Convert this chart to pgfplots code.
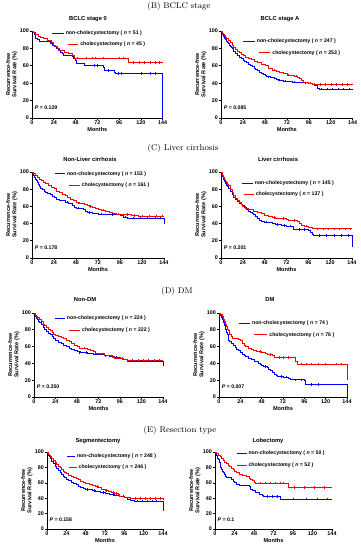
\documentclass[border=0pt]{standalone}
\usepackage{fontspec}
\usepackage{pgfplots}
\pgfplotsset{compat=1.18}
\newfontfamily\af{Liberation Sans}
\definecolor{kmblue}{RGB}{0,0,255}
\definecolor{kmred}{RGB}{255,0,0}
\newcommand\tickf{\af\bfseries\fontsize{5.4}{6}\selectfont}
\newcommand\legf{\af\bfseries\fontsize{5.2}{6}\selectfont}
\newcommand\titf{\af\bfseries\fontsize{5.8}{7}\selectfont}
\newcommand\labf{\af\bfseries\fontsize{5.6}{6.4}\selectfont}
\newcommand\headf{\fontsize{8.3}{10}\selectfont}
\pgfplotsset{
  km/.style={
    scale only axis, anchor=south west,
    xmin=0, xmax=144, ymin=0, ymax=100,
    axis lines=left, axis line style={-, line width=0.6pt},
    xtick={0,24,...,144}, ytick={0,20,...,100},
    tick align=outside, major tick length=2pt,
    tick style={line width=0.6pt, black},
    /pgf/number format/assume math mode=true,
    ticklabel style={font=\tickf},
    xticklabel style={inner sep=1pt},
    yticklabel style={inner sep=1pt},
    xlabel={Months}, xlabel style={font=\labf, inner sep=1pt},
    ylabel={Recurrence-free\\Survival Rate (\%)},
    ylabel style={align=center, font=\labf, inner sep=1pt},
    clip=false,
  },
  bl/.style={kmblue, line width=0.7pt, const plot, mark=none},
  rd/.style={kmred, line width=0.7pt, const plot, mark=none},
  bc/.style={kmblue, only marks, mark=|, mark size=1.2pt, mark options={line width=0.4pt}},
  rc/.style={kmred, only marks, mark=|, mark size=1.2pt, mark options={line width=0.4pt}},
}
% legend helper: #1 colour, #2 x1, #3 x2, #4 y, #5 text
\newcommand\legline[5]{%
  \draw[#1, line width=0.7pt] (axis cs:#2,#4) -- (axis cs:#3,#4);
  \node[anchor=west, font=\legf, inner sep=0pt] at (axis cs:#3+2,#4) {#5};}
\newcommand\pval[1]{\node[anchor=west, font=\legf, inner sep=0pt] at (axis cs:3,12) {\textit{P} = #1};}
\begin{document}
\begin{tikzpicture}[x=1pt,y=1pt]
\useasboundingbox (0,0) rectangle (361,550);
% headings
\node[font=\headf] at (179,544) {(B) BCLC stage};
\node[font=\headf] at (183,402) {(C) Liver cirrhosis};
\node[font=\headf] at (177,259) {(D) DM};
\node[font=\headf] at (180,120) {(E) Resection type};
% titles
\node[font=\titf] at (88,531) {BCLC stage 0};
\node[font=\titf] at (280,531) {BCLC stage A};
\node[font=\titf] at (90,391) {Non-Liver cirrhosis};
\node[font=\titf] at (278,391) {Liver cirrhosis};
\node[font=\titf] at (85,250) {Non-DM};
\node[font=\titf] at (270,250) {DM};
\node[font=\titf] at (98,109) {Segmentectomy};
\node[font=\titf] at (268,109) {Lobectomy};

% ---------- Plot 1: BCLC stage 0
\begin{axis}[km, at={(32pt,432pt)}, width=130.7pt, height=87pt]
\addplot[bl] coordinates {(0,100)(1.5,98)(2.5,96)(4,92)(5.5,90)(8,88)(20,86)(22,84)(25,82)(27,80)(29,78)(31,76)(33,74)(35,72.5)(44,70.5)(46,68.5)(48,66)(49,62.5)(58,60.5)(79,58)(80,55)(83,54.5)(91,52.5)(92,51)(144,51)(144,0)};
\addplot[rd] coordinates {(0,100)(2,98)(4,96)(7,94)(9,93)(12,91)(17,89)(21,87)(24,84)(26,82)(28,80)(30,77.5)(36,76)(40,74)(44,72)(47,69)(105,69)(106,64)(144,64)};
\addplot[bc] coordinates {(68,60.5)(72,60.5)(84,54.5)(95,51)(98,51)(120,51)(130,51)(136,51)};
\addplot[rc] coordinates {(50,69)(60,69)(66,69)(70,69)(78,69)(96,69)(100,69)(112,64)(118,64)(124,64)(130,64)(136,64)(140,64)};
\legline{kmblue}{22}{35}{97}{non-cholecystectomy ( \textit{n} = 51 )}
\legline{kmred}{40}{51}{85}{cholecystectomy ( \textit{n} = 45 )}
\pval{0.129}
\end{axis}

% ---------- Plot 2: BCLC stage A
\begin{axis}[km, at={(221pt,432pt)}, width=131.7pt, height=87pt]
\addplot[bl] coordinates {(0,100)(1,98)(2,96)(3,94)(4,92)(5,90)(6,88.5)(7,87)(8,85.5)(9,84)(10,82.5)(11,81)(12,79.5)(14,77)(16,74)(18,72)(20,70)(22,68)(24,66.5)(26,65)(28,63.5)(30,62)(32,60.5)(34,59)(36,57.5)(38,56)(40,54.5)(42,53)(44,51.5)(46,50)(48,48.5)(50,47.5)(54,47)(58,46)(60,44)(64,43)(68,42.5)(72,42)(78,41.5)(84,41)(90,40.5)(96,40)(100,39)(103,37)(105,34.5)(107,33)(144,33)};
\addplot[rd] coordinates {(0,100)(1,99)(2,97.5)(3,96)(4,94.5)(5,93)(6,91.5)(8,89)(10,86.5)(12,84)(14,81.5)(16,79)(18,77)(20,75)(22,73.5)(24,72)(27,70)(30,68.5)(33,67)(36,65.5)(40,63.5)(44,61.5)(48,60)(52,57.5)(56,55)(60,53.5)(64,52.5)(68,51)(72,49.5)(76,48.5)(80,48)(84,47)(86,45)(88,43)(90,41)(96,40)(100,38.5)(144,38.5)};
\addplot[bc] coordinates {(52,47)(62,44)(70,42.5)(80,41.5)(92,40.5)(110,33)(116,33)(122,33)(128,33)(134,33)(140,33)};
\addplot[rc] coordinates {(58,55)(74,49.5)(82,48)(98,40)(102,38.5)(108,38.5)(114,38.5)(120,38.5)(126,38.5)(132,38.5)(138,38.5)};
\legline{kmblue}{24}{37}{88}{non-cholecystectomy ( \textit{n} = 247 )}
\legline{kmred}{42}{54}{75}{cholecystectomy ( \textit{n} = 253 )}
\pval{0.085}
\end{axis}

% ---------- Plot 3: Non-Liver cirrhosis
\begin{axis}[km, at={(32pt,292pt)}, width=132pt, height=86pt]
\addplot[bl] coordinates {(0,100)(1,98)(2,96)(3,94)(4,92)(5,90)(6,88)(7,86)(8,83.5)(9,81)(11,79.5)(13,78)(15,76.5)(17,75)(20,73.5)(22,71.5)(24,70)(27,68)(30,66.5)(36,65)(40,64)(42,63)(44,61)(46,59)(48,58)(54,58)(56,56)(58,54)(60,53)(66,52)(72,51)(84,50.5)(96,49.5)(100,47.5)(104,46.5)(144,46.5)(144,40)};
\addplot[rd] coordinates {(0,100)(2,98.5)(4,96.5)(6,94)(8,92)(10,90)(12,88.5)(15,86.5)(18,84.5)(21,82.5)(24,80.5)(27,78)(30,76)(33,74)(36,72.5)(39,70)(42,68)(45,66.5)(48,65)(51,64)(54,63)(57,62)(60,61)(63,60)(66,59)(69,58)(72,57)(76,55.5)(80,54)(84,53)(88,52)(92,51)(100,50.5)(108,49.5)(116,49)(144,49)};
\addplot[bc] coordinates {(38,65)(50,58)(62,53)(76,51)(88,50.5)(102,47.5)(110,46.5)(118,46.5)(126,46.5)(134,46.5)(140,46.5)};
\addplot[rc] coordinates {(52,64)(64,60)(78,55.5)(94,51)(104,50.5)(112,49.5)(120,49)(128,49)(136,49)(142,49)};
\legline{kmblue}{25}{36}{98}{non-cholecystectomy ( \textit{n} = 153 )}
\legline{kmred}{40}{52}{85}{cholecystectomy ( \textit{n} = 161 )}
\pval{0.178}
\end{axis}

% ---------- Plot 4: Liver cirrhosis
\begin{axis}[km, at={(221pt,292pt)}, width=131pt, height=86pt]
\addplot[bl] coordinates {(0,100)(1,98)(2,95)(3,92)(4,89)(5,87)(6,85)(7,83)(8,81)(10,78)(12,74.5)(14,71)(16,68)(18,66)(20,64)(22,62.5)(24,61)(26,58.5)(28,56)(30,54)(32,53)(34,52)(36,51)(38,48.5)(40,46)(42,44)(44,43)(48,42)(52,41)(56,40)(60,39)(66,38)(72,37)(78,36.5)(80,33)(96,32)(98,30)(100,27.5)(102,26)(144,26)(144,12.5)};
\addplot[rd] coordinates {(0,100)(1,98)(2,96)(3,94)(4,91.5)(5,89)(6,87.5)(7,86)(8,84)(10,80)(12,76)(14,72.5)(16,69)(18,67)(20,65)(22,62.5)(24,60.5)(27,58)(30,57)(33,56)(36,54)(40,53)(44,51.5)(48,49.5)(52,48)(56,47)(60,46.5)(66,46)(72,45)(74,44)(78,43.5)(84,43)(86,40)(88,38)(92,37)(96,36)(100,35)(104,34)(144,34)};
\addplot[bc] coordinates {(50,42)(62,39)(70,38)(76,37)(86,33)(92,33)(108,26)(116,26)(124,26)(132,26)(140,26)};
\addplot[rc] coordinates {(58,47)(68,46)(80,43.5)(94,37)(106,34)(112,34)(118,34)(124,34)(130,34)(136,34)(142,34)};
\legline{kmblue}{23}{35}{87}{non-cholecystectomy ( \textit{n} = 145 )}
\legline{kmred}{25}{36}{74}{cholecystectomy ( \textit{n} = 137 )}
\pval{0.201}
\end{axis}

% ---------- Plot 5: Non-DM
\begin{axis}[km, at={(34pt,153pt)}, width=129pt, height=84pt]
\addplot[bl] coordinates {(0,100)(1,98)(2,96)(3,94)(4,92)(5,90)(6,88.5)(8,86)(10,83)(12,80.5)(14,78)(16,76)(18,74)(20,72)(22,69.5)(24,67.5)(27,65.5)(30,63.5)(33,62)(36,60)(39,58.5)(42,57)(45,55.5)(48,54)(52,53)(56,53)(60,52)(66,51)(72,50.5)(78,49)(84,48)(90,47.5)(96,46.5)(100,45)(104,43)(144,43)(144,37)};
\addplot[rd] coordinates {(0,100)(1,99)(2,97.5)(3,96)(4,94.5)(6,92)(8,89.5)(10,87)(12,85)(14,83)(16,81)(18,79)(20,77)(22,75)(24,73)(27,72)(30,71)(33,69.5)(36,68)(39,66)(42,64)(45,62)(48,60)(51,58.5)(54,58)(60,57)(63,55.5)(66,54)(69,52.5)(72,51.5)(78,50)(84,49)(88,47)(90,46)(96,46)(100,45)(104,44)(144,44)};
\addplot[bc] coordinates {(50,53)(58,53)(68,51)(80,49)(92,47.5)(108,43)(114,43)(120,43)(126,43)(132,43)(138,43)};
\addplot[rc] coordinates {(56,58)(74,51.5)(86,49)(98,46)(110,44)(116,44)(122,44)(128,44)(134,44)(140,44)};
\legline{kmblue}{23.5}{34.5}{94}{non-cholecystectomy ( \textit{n} = 224 )}
\legline{kmred}{39.5}{51.5}{79}{cholecystectomy ( \textit{n} = 222 )}
\pval{0.350}
\end{axis}

% ---------- Plot 6: DM
\begin{axis}[km, at={(219pt,153pt)}, width=128pt, height=84pt]
\addplot[bl] coordinates {(0,100)(2,97)(3,95)(4,92)(5,89)(6,85)(7,81)(8,77)(9,74)(10,71)(11,68)(12,66)(14,64)(16,62)(18,59.5)(20,57)(22,55)(24,53)(26,51)(28,49.5)(30,48)(33,46)(36,44.5)(40,43)(42,42)(44,40)(46,39)(48,38)(50,36.5)(54,35)(56,33.5)(58,32)(60,29)(62,27.5)(64,25.5)(66,24.5)(72,23.5)(78,22)(80,20.5)(96,20)(97,15)(144,15)(144,0)};
\addplot[rd] coordinates {(0,100)(2,98)(4,96)(5,93)(6,90)(7,87)(8,84)(9,81)(10,79)(12,75)(14,72)(15,70)(22,68.5)(24,68)(26,64)(28,61)(30,60)(33,58)(36,57)(39,55)(42,54)(48,53)(52,51.5)(54,50.5)(60,50)(62,47)(84,47)(86,43)(88,39)(144,39)(144,20)};
\addplot[bc] coordinates {(52,36.5)(70,24.5)(76,23.5)(86,20.5)(92,20.5)(104,15)(112,15)};
\addplot[rc] coordinates {(46,54)(58,50.5)(68,47)(72,47)(78,47)(92,39)(98,39)(104,39)(112,39)(120,39)(132,39)(138,39)};
\legline{kmblue}{22}{35}{88}{non-cholecystectomy ( \textit{n} = 74 )}
\legline{kmred}{39.5}{54.5}{74}{cholecystectomy ( \textit{n} = 76 )}
\pval{0.007}
\end{axis}

% ---------- Plot 7: Segmentectomy
\begin{axis}[km, at={(47pt,21pt)}, width=116pt, height=77pt]
\addplot[bl] coordinates {(0,100)(1,98)(2,96)(3,94)(4,91.5)(5,89.5)(6,88)(8,85)(10,82)(12,79)(14,76.5)(16,74)(18,71.5)(20,69)(22,67)(24,65)(27,63)(30,61)(33,59.5)(36,58)(39,56)(42,54)(45,52.5)(48,51.5)(52,51)(56,50)(60,49)(66,47.5)(72,46)(78,45)(84,43.5)(90,42.5)(96,41.5)(100,39)(104,37)(108,36)(144,36)(144,23)};
\addplot[rd] coordinates {(0,100)(1,99)(2,97.5)(3,96)(4,94.5)(6,92)(8,89.5)(10,87)(12,84.5)(14,82)(16,79.5)(18,77.5)(20,75.5)(22,74)(24,72)(27,70)(30,68.5)(33,67)(36,65.5)(39,64)(42,62.5)(45,61)(48,59.5)(52,58)(56,56.5)(60,55)(64,53.5)(68,52)(72,50)(76,49)(80,48)(84,46)(88,44.5)(90,43)(96,41.5)(100,40.5)(104,39.5)(144,39)};
\addplot[bc] coordinates {(50,51.5)(58,50)(70,47.5)(82,45)(94,42.5)(112,36)(118,36)(124,36)(130,36)(136,36)};
\addplot[rc] coordinates {(62,55)(74,50)(82,48)(86,46)(110,39.5)(116,39.5)(122,39.5)(128,39.5)(134,39.5)(140,39.5)};
\legline{kmblue}{25}{35}{94}{non-cholecystectomy ( \textit{n} = 248 )}
\legline{kmred}{27}{37}{80}{cholecystectomy ( \textit{n} = 246 )}
\pval{0.158}
\end{axis}

% ---------- Plot 8: Lobectomy
\begin{axis}[km, at={(215pt,21pt)}, width=117pt, height=77pt]
\addplot[bl] coordinates {(0,100)(1,98)(2,96)(3,92)(4,90)(5,86)(6,84)(7,80)(8,77)(9,75)(10,74)(12,71)(13,68)(14,67)(20,64)(22,62)(24,60)(26,58)(30,57)(42,55)(44,52)(46,50)(50,47.5)(54,45)(58,43.5)(60,42)(80,40)(81,39)(144,39)};
\addplot[rd] coordinates {(0,100)(2,98)(4,96)(6,94)(8,92)(10,89)(12,87)(14,85)(16,83)(18,81)(20,79)(22,77)(24,75)(26,73)(30,71)(34,70)(38,68)(42,66)(44,65)(46,63)(48,60)(50,59.5)(88,59)(90,54)(144,54)};
\addplot[bc] coordinates {(64,42)(70,42)(76,42)(96,39)(112,39)(126,39)(138,39)};
\addplot[rc] coordinates {(56,59.5)(62,59.5)(68,59.5)(74,59.5)(80,59.5)(84,59.5)(98,54)(110,54)(122,54)(134,54)};
\legline{kmblue}{26.7}{39}{98}{non-cholecystectomy ( \textit{n} = 50 )}
\legline{kmred}{26.7}{39}{83}{cholecystectomy ( \textit{n} = 52 )}
\pval{0.1}
\end{axis}
\end{tikzpicture}
\end{document}
